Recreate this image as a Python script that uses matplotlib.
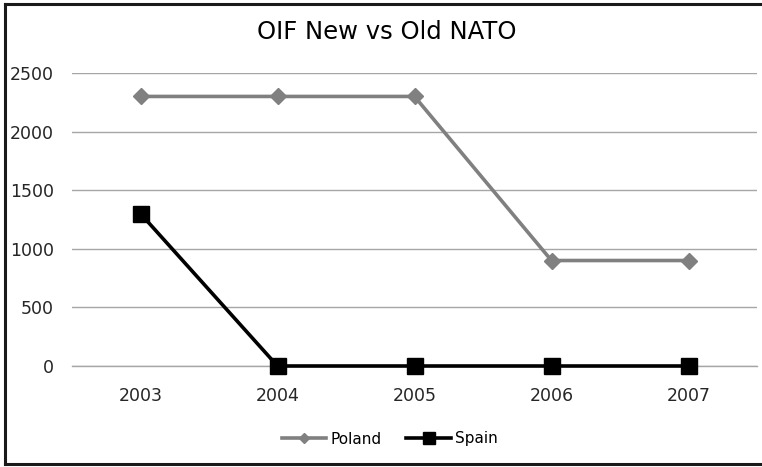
import matplotlib.pyplot as plt
from matplotlib.lines import Line2D

plt.rcParams['font.family'] = ['DejaVu Sans']

years = ['2003', '2004', '2005', '2006', '2007']
poland = [2300, 2300, 2300, 900, 900]
spain = [1300, 0, 0, 0, 0]

fig = plt.figure(figsize=(7.62, 4.67), dpi=100)
ax = fig.add_axes([72 / 762, 101 / 467, 685 / 762, 293 / 467])

x = range(len(years))
ax.plot(x, poland, color='#808080', lw=2.6, marker='D', ms=8.5, label='Poland', zorder=3)
ax.plot(x, spain, color='black', lw=2.6, marker='s', ms=12, label='Spain', zorder=3)

ax.set_xlim(-0.5, len(years) - 0.5)
ax.set_ylim(0, 2500)
ax.set_yticks(range(0, 2501, 500))
ax.set_xticks(list(x))
ax.set_xticklabels(years)
ax.grid(axis='y', color='#a6a6a6', lw=1.0)
ax.axhline(0, color='#a6a6a6', lw=1.0, clip_on=False, zorder=1)
ax.set_axisbelow(True)
for s in ax.spines.values():
    s.set_visible(False)
ax.tick_params(length=0, labelsize=12.5, colors='#262626')
ax.tick_params(axis='x', pad=15)
ax.tick_params(axis='y', pad=13)
for ln in ax.lines:
    ln.set_clip_on(False)

fig.text(387 / 762, 1 - 32 / 467, 'OIF New vs Old NATO', ha='center', va='center', fontsize=17.5)
leg = fig.legend(handles=ax.lines[:2], loc='center', bbox_to_anchor=(390 / 762, 1 - 439 / 467), ncol=2,
                 frameon=False, fontsize=11, handlelength=2.9, columnspacing=1.6, handletextpad=0.3)
leg.legend_handles[0].set_markersize(5.5)
leg.legend_handles[1].set_markersize(8)

# chart border: left, top, bottom (right edge is cut off in the reference)
bx, by0, by1 = 4.5 / 762, 3 / 467, 1 - 3.5 / 467
for xs, ys in [([bx, bx], [by0, by1]), ([bx, 1], [by1, by1]), ([bx, 1], [by0, by0])]:
    fig.add_artist(Line2D(xs, ys, transform=fig.transFigure, color='#1a1a1a', lw=2.2,
                          solid_capstyle='projecting'))

fig.savefig('out.png', dpi=100)
